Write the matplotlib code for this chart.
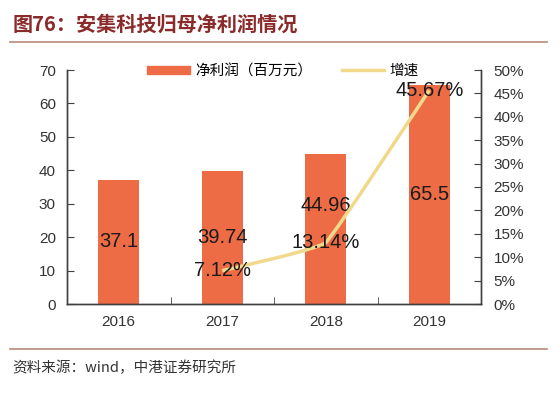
import matplotlib
matplotlib.use("Agg")
import matplotlib.pyplot as plt
from matplotlib.path import Path
from matplotlib.patches import PathPatch
from matplotlib.lines import Line2D
import numpy as np

plt.rcParams['font.family'] = ['Liberation Sans', 'Noto Sans CJK SC', 'DejaVu Sans']

years = ['2016', '2017', '2018', '2019']
profit = [37.1, 39.74, 44.96, 65.5]          # 净利润（百万元）
growth = [None, 7.12, 13.14, 45.67]          # 增速 %
profit_labels = ['37.1', '39.74', '44.96', '65.5']
growth_labels = ['', '7.12%', '13.14%', '45.67%']

bar_color = '#EE6C45'
line_color = '#F1D98C'
axis_color = '#404040'
title_color = '#8B2A2A'
rule_color = '#B98A7C'

fig = plt.figure(figsize=(5.6, 4.03), dpi=100)
ax = fig.add_axes([67/560, 99/403, 414/560, 234/403])
ax2 = ax.twinx()

x = np.arange(len(years))
ax.bar(x, profit, width=0.4, color=bar_color, zorder=2)
ax.set_xlim(-0.5, 3.5)
ax.set_ylim(0, 70)
ax.set_yticks(range(0, 71, 10))
ax.set_xticks(x)
ax.set_xticklabels(years)
ax.set_xticks([0.5, 1.5, 2.5], minor=True)

# slightly smoothed growth line (bezier through the points, low tension)
gx = [i for i, g in enumerate(growth) if g is not None]
gy = [g for g in growth if g is not None]
pts = np.column_stack([gx, gy]).astype(float)
k = 0.04
verts = [tuple(pts[0])]
codes = [Path.MOVETO]
for i in range(len(pts) - 1):
    p0 = pts[max(i - 1, 0)]
    p1 = pts[i]
    p2 = pts[i + 1]
    p3 = pts[min(i + 2, len(pts) - 1)]
    c1 = p1 + (p2 - p0) * k
    c2 = p2 - (p3 - p1) * k
    verts += [tuple(c1), tuple(c2), tuple(p2)]
    codes += [Path.CURVE4] * 3
ax2.add_patch(PathPatch(Path(verts, codes), facecolor='none',
                        edgecolor=line_color, lw=2.5, zorder=3))
ax2.set_ylim(0, 50)
ax2.set_yticks(range(0, 51, 5))
ax2.set_yticklabels([f'{v}%' for v in range(0, 51, 5)])

# labels
bar_nudge = {2: 17}
for i, (v, s) in enumerate(zip(profit, profit_labels)):
    ax.annotate(s, (i, v / 2), xytext=(0, bar_nudge.get(i, 0)),
                textcoords='offset points', ha='center', va='center',
                fontsize=14.5, color='#1a1a1a', zorder=5)
for i, (g, s) in enumerate(zip(growth, growth_labels)):
    if g is None:
        continue
    ax2.text(i, g, s, ha='center', va='center', fontsize=14.5,
             color='#1a1a1a', zorder=5)

for a in (ax, ax2):
    a.spines['top'].set_visible(False)
    for sp in ('left', 'right', 'bottom'):
        a.spines[sp].set_color(axis_color)
        a.spines[sp].set_linewidth(1)
ax.tick_params(axis='y', direction='in', length=5, color=axis_color,
               labelsize=11, labelcolor='#333333', pad=8)
ax2.tick_params(axis='y', direction='in', length=5, color=axis_color,
                labelsize=11, labelcolor='#333333', pad=9)
ax.tick_params(axis='x', which='major', length=0, labelsize=11,
               labelcolor='#333333', pad=8)
ax.tick_params(axis='x', which='minor', direction='in', length=5,
               color=axis_color)

handles = [plt.Rectangle((0, 0), 1, 1, color=bar_color),
           Line2D([0], [0], color=line_color, lw=2.5)]
ax.legend(handles, ['净利润（百万元）', '增速'], loc='center',
          bbox_to_anchor=(0.522, 0.995), ncol=2, frameon=False,
          fontsize=10.5, handlelength=2.9, handleheight=0.55,
          columnspacing=2.0, handletextpad=0.4)

fig.text(13/560, 1 - 24/403, '图76：安集科技归母净利润情况', fontsize=14.5,
         fontweight='bold', color=title_color, va='center', ha='left',
         family=['Noto Sans CJK SC', 'Liberation Sans'])
fig.add_artist(Line2D([10/560, 547/560], [1 - 41.5/403, 1 - 41.5/403],
                      color=rule_color, lw=1.2))
fig.add_artist(Line2D([10/560, 547/560], [1 - 349/403, 1 - 349/403],
                      color=rule_color, lw=1.2))
fig.text(12/560, 1 - 368/403, '资料来源：wind，中港证券研究所', fontsize=10.5,
         style='italic', color='#333333', va='center', ha='left',
         family=['Noto Sans CJK SC', 'Liberation Sans'])

fig.savefig('out.png', dpi=100)
